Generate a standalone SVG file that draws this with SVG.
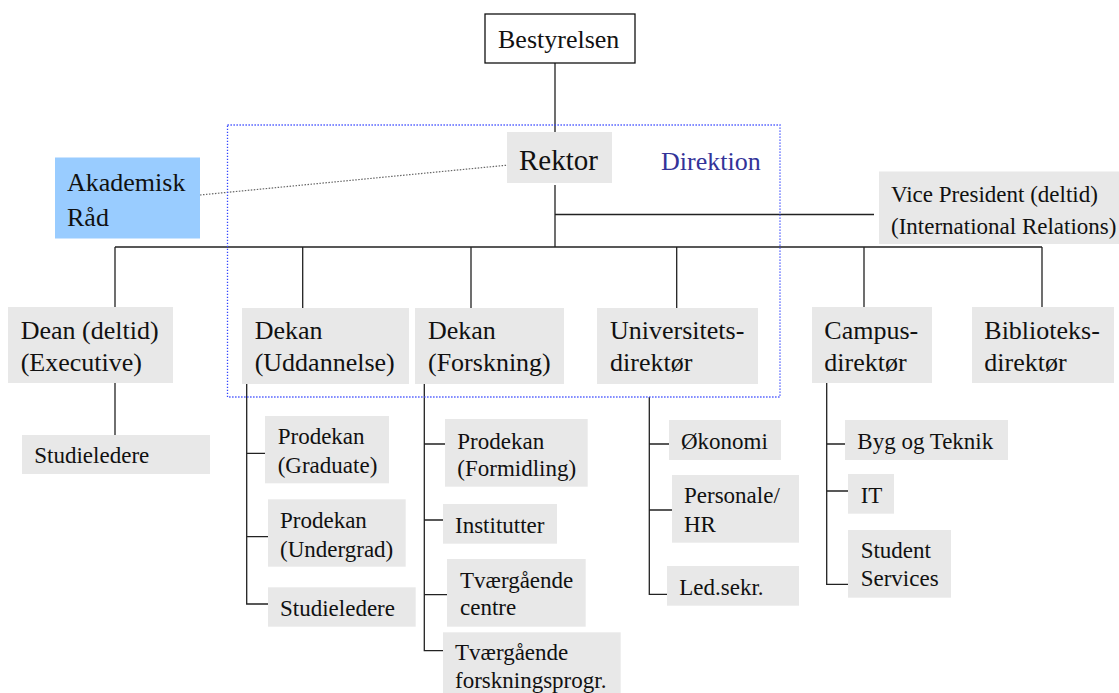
<svg xmlns="http://www.w3.org/2000/svg" width="1119" height="693" viewBox="0 0 1119 693">
<style>
text{font-family:"Liberation Serif","Times New Roman",serif;fill:#111}
.l{font-size:26px}
.s{font-size:23px}
.g{fill:#e8e8e8}
.c{stroke:#222;stroke-width:1.3;fill:none}
</style>
<rect width="1119" height="693" fill="#fff"/>
<g id="connectors">
<path class="c" d="M555 63V135M555 185V247M555 214.5H874M115 247H1042M115 247V307M302.7 247V308M471 247V308M676.7 247V308M864 247V307M1042 247V307"/>
<path class="c" d="M115 383V435"/>
<path class="c" d="M246.7 384V604H268M246.7 453.3H265M246.7 536.7H268"/>
<path class="c" d="M424.3 384V650.7H443M424.3 444H445M424.3 520H443M424.3 594.7H447"/>
<path class="c" d="M649.3 397V594.3H667M649.3 444H669M649.3 510H672"/>
<path class="c" d="M826.7 383V584.3H848M826.7 444H845M826.7 491H848"/>
<path d="M200 195L509 165" stroke="#666" stroke-width="1.2" stroke-dasharray="1.5,1.5" fill="none"/>
</g>
<g id="direktion">
<rect x="227.5" y="125" width="552.5" height="272" fill="none" stroke="#3344ff" stroke-width="1.3" stroke-dasharray="1.3,1.7"/>
<text class="l" x="661" y="169.6" style="fill:#333399">Direktion</text>
</g>
<g id="bestyrelsen"><rect x="485" y="14" width="150" height="49" fill="#fff" stroke="#111" stroke-width="1.3"/><text class="l" x="498" y="48">Bestyrelsen</text></g>
<g id="rektor"><rect class="g" x="507" y="132" width="105" height="51"/><text x="519" y="170" style="font-size:29px">Rektor</text></g>
<g id="akademisk"><rect x="55" y="157.5" width="145" height="81" fill="#99ccff"/><text class="l" x="67" y="191">Akademisk</text><text class="l" x="67" y="226">Råd</text></g>
<g id="vicepresident"><rect class="g" x="879" y="171.5" width="240" height="72.5"/><text class="s" x="891" y="202">Vice President (deltid)</text><text class="s" x="891" y="234">(International Relations)</text></g>
<g id="dean"><rect class="g" x="8" y="307" width="165" height="76"/><text class="l" x="20.7" y="339">Dean (deltid)</text><text class="l" x="20.7" y="371">(Executive)</text></g>
<g id="dekan-uddannelse"><rect class="g" x="242" y="308" width="167" height="76"/><text class="l" x="254.7" y="339">Dekan</text><text class="l" x="254.7" y="371">(Uddannelse)</text></g>
<g id="dekan-forskning"><rect class="g" x="415" y="308" width="149" height="76"/><text class="l" x="428" y="339">Dekan</text><text class="l" x="428" y="371">(Forskning)</text></g>
<g id="universitetsdirektor"><rect class="g" x="597" y="308" width="161" height="76"/><text class="l" x="610" y="339">Universitets-</text><text class="l" x="610" y="371">direktør</text></g>
<g id="campusdirektor"><rect class="g" x="812" y="307" width="120" height="76"/><text class="l" x="824.3" y="339">Campus-</text><text class="l" x="824.3" y="371">direktør</text></g>
<g id="biblioteksdirektor"><rect class="g" x="972" y="307" width="142" height="76"/><text class="l" x="984.3" y="339">Biblioteks-</text><text class="l" x="984.3" y="371">direktør</text></g>
<g id="studieledere-exec"><rect class="g" x="22" y="435" width="188" height="39"/><text class="s" x="34.3" y="462.7">Studieledere</text></g>
<g id="prodekan-graduate"><rect class="g" x="265" y="416" width="124" height="67.3"/><text class="s" x="277.7" y="444">Prodekan</text><text class="s" x="277.7" y="473">(Graduate)</text></g>
<g id="prodekan-undergrad"><rect class="g" x="268" y="499.3" width="137.7" height="67.4"/><text class="s" x="280" y="528.3">Prodekan</text><text class="s" x="280" y="556.7">(Undergrad)</text></g>
<g id="studieledere-udd"><rect class="g" x="268" y="587.3" width="147.7" height="39.4"/><text class="s" x="280" y="616">Studieledere</text></g>
<g id="prodekan-formidling"><rect class="g" x="445" y="419" width="142.7" height="67.7"/><text class="s" x="457.3" y="449">Prodekan</text><text class="s" x="457.3" y="476">(Formidling)</text></g>
<g id="institutter"><rect class="g" x="443" y="504" width="114" height="39.7"/><text class="s" x="455" y="533.3">Institutter</text></g>
<g id="tvaergaaende-centre"><rect class="g" x="447" y="559" width="138.7" height="67.7"/><text class="s" x="460" y="588.3">Tværgående</text><text class="s" x="460" y="615">centre</text></g>
<g id="tvaergaaende-forskning"><rect class="g" x="443" y="632.3" width="177.7" height="60.7"/><text class="s" x="455" y="660">Tværgående</text><text class="s" x="455" y="688.3">forskningsprogr.</text></g>
<g id="okonomi"><rect class="g" x="669" y="420" width="112" height="40"/><text class="s" x="681" y="449">Økonomi</text></g>
<g id="personale"><rect class="g" x="672" y="475" width="127" height="67.7"/><text class="s" x="684" y="503.3">Personale/</text><text class="s" x="684" y="531.7">HR</text></g>
<g id="ledsekr"><rect class="g" x="667" y="566" width="132" height="39.7"/><text class="s" x="679.3" y="595">Led.sekr.</text></g>
<g id="byg"><rect class="g" x="845" y="420" width="163" height="40"/><text class="s" x="857.3" y="449">Byg og Teknik</text></g>
<g id="it"><rect class="g" x="848" y="474" width="46" height="39.7"/><text class="s" x="860.7" y="502.7">IT</text></g>
<g id="studentservices"><rect class="g" x="848" y="530" width="103" height="67.7"/><text class="s" x="860.7" y="558.3">Student</text><text class="s" x="860.7" y="585.7">Services</text></g>
</svg>
